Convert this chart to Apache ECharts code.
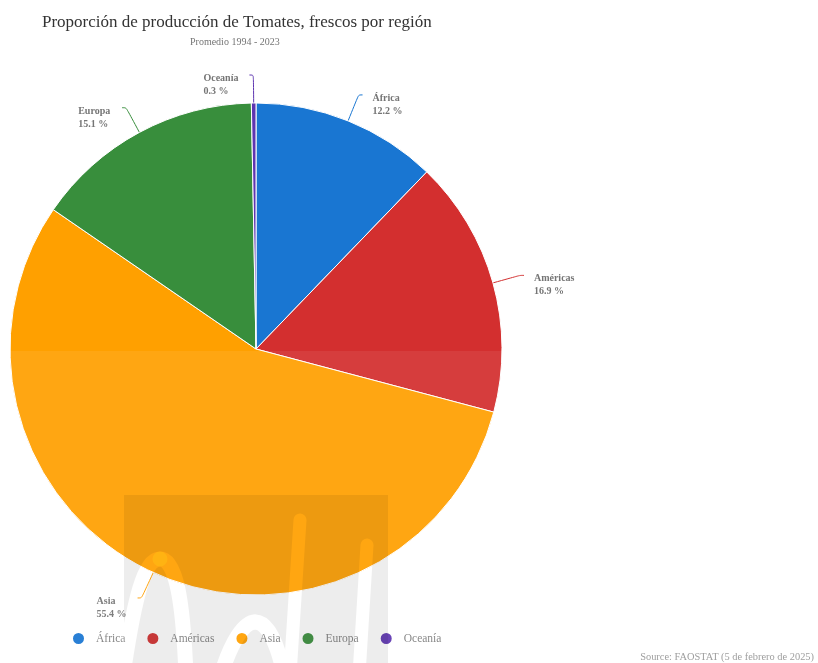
<!DOCTYPE html>
<html>
<head>
<meta charset="utf-8">
<title>Proporción de producción de Tomates, frescos por región</title>
<script src="https://cdn.jsdelivr.net/npm/echarts@6/dist/echarts.min.js"></script>
<style>
  html, body { margin: 0; padding: 0; background: #fff; }
  #chart { width: 818px; height: 663px; }
</style>
</head>
<body>
<div id="chart"></div>
<script>
// Regional shares of fresh tomato production (average 1994 - 2023), in percent
const regions = ['África', 'Américas', 'Asia', 'Europa', 'Oceanía'];
const shares = [12.2, 16.9, 55.4, 15.1, 0.3];
const regionColors = ['#1976d2', '#d32f2f', '#ffa000', '#388e3c', '#5e35b1'];

const FONT = '"Liberation Serif", "Times New Roman", serif';
const LABEL_GREY = '#757575';

// Width of each two-line slice label, so both lines can start at the same x
const measureCtx = document.createElement('canvas').getContext('2d');
measureCtx.font = 'bold 10px ' + FONT;
const labelRich = {};
regions.forEach((name, i) => {
  const w = Math.max(
    measureCtx.measureText(name).width,
    measureCtx.measureText(shares[i] + ' %').width
  );
  labelRich['w' + i] = {
    width: Math.ceil(w) + 1,
    align: 'left',
    fontFamily: FONT,
    fontSize: 10,
    fontWeight: 'bold',
    lineHeight: 13,
    color: LABEL_GREY
  };
});

// Watermark strokes: dodged out of the grey panel
const dodgeStyle = (w) => ({
  fill: null,
  stroke: 'rgb(18,18,18)',
  lineWidth: w,
  lineCap: 'round',
  blend: 'color-dodge'
});

const chart = echarts.init(document.getElementById('chart'), null, { renderer: 'canvas' });

chart.setOption({
  backgroundColor: '#ffffff',
  animation: false,
  color: regionColors,
  title: [
    {
      text: 'Proporción de producción de Tomates, frescos por región',
      left: 42,
      top: 14,
      padding: 0,
      textStyle: { fontFamily: FONT, fontSize: 17, fontWeight: 'normal', color: '#333333' }
    },
    {
      text: 'Promedio 1994 - 2023',
      left: 190,
      top: 37,
      padding: 0,
      textStyle: { fontFamily: FONT, fontSize: 10, fontWeight: 'normal', color: '#757575' }
    }
  ],
  legend: {
    data: regions,
    left: 66,
    top: 626,
    icon: 'circle',
    itemWidth: 25,
    itemHeight: 13,
    itemGap: 20,
    textStyle: { fontFamily: FONT, fontSize: 11.5, color: '#808080' }
  },
  series: [
    {
      type: 'pie',
      center: [256, 349],
      radius: 246,
      startAngle: 90,
      clockwise: true,
      avoidLabelOverlap: false,
      itemStyle: { borderColor: '#ffffff', borderWidth: 1 },
      label: {
        show: true,
        position: 'outside',
        distanceToLabelLine: 10,
        padding: [20, 0, 0, 0],
        formatter: p => `{w${p.dataIndex}|${p.name}}\n{w${p.dataIndex}|${p.value} %}`,
        rich: labelRich
      },
      labelLine: {
        show: true,
        length: 28,
        length2: 4,
        smooth: true,
        lineStyle: { width: 1 }
      },
      emphasis: { disabled: true },
      data: regions.map((name, i) => ({ name: name, value: shares[i] }))
    }
  ],
  graphic: [
    // light wash over the lower half of the plot
    {
      type: 'rect',
      z: 100,
      silent: true,
      shape: { x: 0, y: 351, width: 818, height: 312 },
      style: { fill: 'rgba(255,255,255,0.07)' }
    },
    // grey watermark panel
    {
      type: 'rect',
      z: 101,
      silent: true,
      shape: { x: 124, y: 495, width: 264, height: 168 },
      style: { fill: 'rgba(0,0,0,0.07)' }
    },
    {
      type: 'bezierCurve',
      z: 102,
      silent: true,
      shape: { x1: 123, y1: 675, cpx1: 134, cpy1: 600, cpx2: 144, cpy2: 559, x2: 160, y2: 559 },
      style: dodgeStyle(15)
    },
    {
      type: 'bezierCurve',
      z: 102,
      silent: true,
      shape: { x1: 160, y1: 559, cpx1: 176, cpy1: 559, cpx2: 183, cpy2: 600, x2: 186, y2: 675 },
      style: dodgeStyle(15)
    },
    {
      type: 'bezierCurve',
      z: 102,
      silent: true,
      shape: { x1: 221, y1: 675, cpx1: 231, cpy1: 642, cpx2: 244, cpy2: 622, x2: 255, y2: 622 },
      style: dodgeStyle(15)
    },
    {
      type: 'bezierCurve',
      z: 102,
      silent: true,
      shape: { x1: 255, y1: 622, cpx1: 268, cpy1: 622, cpx2: 278, cpy2: 645, x2: 284, y2: 675 },
      style: dodgeStyle(15)
    },
    {
      type: 'line',
      z: 102,
      silent: true,
      shape: { x1: 300, y1: 520, x2: 290, y2: 675 },
      style: dodgeStyle(13)
    },
    {
      type: 'line',
      z: 102,
      silent: true,
      shape: { x1: 367, y1: 545, x2: 359, y2: 675 },
      style: dodgeStyle(13)
    },
    {
      type: 'text',
      z: 103,
      right: 4,
      bottom: 1,
      style: {
        text: 'Source: FAOSTAT (5 de febrero de 2025)',
        fontFamily: FONT,
        fontSize: 10.4,
        fill: '#9e9e9e'
      }
    }
  ]
});
</script>
</body>
</html>
